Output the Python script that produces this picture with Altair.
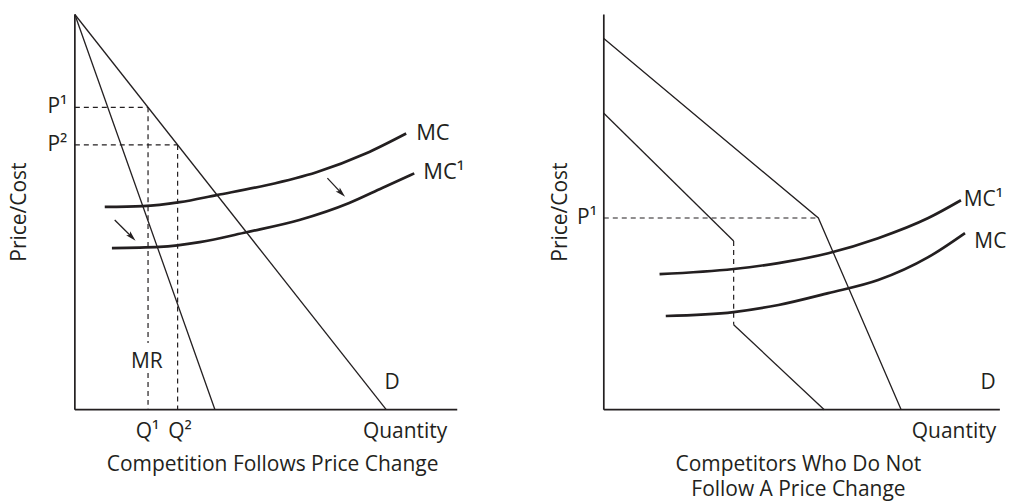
import altair as alt
import pandas as pd

FONT = "Open Sans"
INK = "#231f20"
FS = 21
FS_MC_LEFT = 22
FS_MC_RIGHT = 21

# ---------------- left panel: Competition Follows Price Change ----------------
L_D_Q = [0, 100]
L_D_P = [100, 0]
L_MR_Q = [0, 45]
L_MR_P = [100, 0]
L_MC_Q = [9.6, 21.8, 33.7, 45.5, 61.5, 77.6, 93.6, 106.4]
L_MC_P = [51.3, 51.5, 52.5, 54.3, 56.8, 60.1, 64.9, 69.9]
L_MC1_Q = [11.9, 27.2, 40.1, 55.1, 72.1, 88.1, 98.7, 109.0]
L_MC1_P = [40.9, 41.2, 42.4, 44.9, 48.0, 52.3, 56.1, 59.8]
L_PRICES = [76.5, 67.0]      # P1, P2
L_QUANTS = [23.5, 33.0]      # Q1, Q2
L_MR_GAP = [16.9, 9.3]       # gap in the Q1 guide behind the "MR" label
L_ARROW_Q0 = [81.1, 12.8]
L_ARROW_P0 = [58.6, 48.0]
L_ARROW_Q1 = [85.6, 18.3]
L_ARROW_P1 = [54.8, 43.7]
L_AXIS_QMAX = 122.8
AXIS_PMAX = 100

L_TEXT = ["MC", "MC¹", "MR", "D", "Q¹", "Q²", "P¹", "P²", "Quantity",
          "Competition Follows Price Change"]
L_TEXT_Q = [109.6, 111.9, 23.1, 101.9, 23.3, 33.8, -2.4, -2.4, 119.6, 63.5]
L_TEXT_P = [69.9, 60.1, 12.1, 6.8, -5.6, -5.6, 76.5, 67.0, -5.6, -13.9]
L_TEXT_ALIGN = ["left", "left", "center", "center", "center", "center",
                "right", "right", "right", "center"]
L_YTITLE = ("Price/Cost", -17.6, 50)

# ---------------- right panel: Competitors Who Do Not Follow ----------------
R_D_Q = [0, 68.9, 95.5]
R_D_P = [93.9, 48.5, 0]
R_MR_UP_Q = [0, 41.7]
R_MR_UP_P = [75.0, 42.7]
R_MR_LO_Q = [41.7, 70.8]
R_MR_LO_P = [21.5, 0]
R_P1 = 48.5
R_KINK_Q = 68.9
R_MC1_Q = [17.9, 41.7, 56.1, 72.1, 88.1, 104.2, 114.7]
R_MC1_P = [34.3, 35.6, 37.1, 39.6, 43.4, 48.5, 53.0]
R_MC_Q = [19.9, 41.7, 56.1, 72.1, 88.1, 104.2, 116.0]
R_MC_P = [23.7, 24.7, 26.5, 29.5, 32.8, 38.6, 44.7]
R_AXIS_QMAX = 127.2

R_TEXT = ["MC¹", "MC", "D", "P¹", "Quantity",
          "Competitors Who Do Not", "Follow A Price Change"]
R_TEXT_Q = [115.6, 119.0, 123.4, -2.2, 126.0, 62.5, 62.5]
R_TEXT_P = [53.0, 42.4, 6.8, 48.5, -5.6, -13.9, -20.4]
R_TEXT_ALIGN = ["left", "left", "center", "right", "right", "center", "center"]
R_YTITLE = ("Price/Cost", -13.8, 50)

# scale set-up (data units -> pixels)
P_DOMAIN = [-21.212, 101.515]
L_Q_DOMAIN = [-21.474, 125.962]
R_Q_DOMAIN = [-43.910, 128.846]
HEIGHT = 486
L_WIDTH = 460
R_WIDTH = 539


def seg_df(pairs):
    rows = []
    for sid, (qs, ps) in enumerate(pairs):
        for i, (q, p) in enumerate(zip(qs, ps)):
            rows.append({"sid": sid, "o": i, "q": q, "p": p})
    return pd.DataFrame(rows)


def panel(qdom, width, axes, thin, thick, dashed, arrows, texts, ytitle, fs_mc):
    X = alt.X("q:Q", scale=alt.Scale(domain=qdom, nice=False, zero=False), axis=None)
    Y = alt.Y("p:Q", scale=alt.Scale(domain=P_DOMAIN, nice=False, zero=False), axis=None)
    layers = []
    layers.append(alt.Chart(seg_df(axes)).mark_line(color=INK, strokeWidth=1.7).encode(
        x=X, y=Y, detail="sid:N", order="o:Q"))
    layers.append(alt.Chart(seg_df(thin)).mark_line(color=INK, strokeWidth=1.3).encode(
        x=X, y=Y, detail="sid:N", order="o:Q"))
    layers.append(alt.Chart(seg_df(dashed)).mark_line(
        color=INK, strokeWidth=1.2, strokeDash=[5, 4]).encode(
        x=X, y=Y, detail="sid:N", order="o:Q"))
    layers.append(alt.Chart(seg_df(thick)).mark_line(
        color=INK, strokeWidth=2.7, interpolate="monotone").encode(
        x=X, y=Y, detail="sid:N", order="o:Q"))
    if arrows is not None:
        q0, p0, q1, p1 = arrows
        layers.append(alt.Chart(seg_df([([a, b], [c, d]) for a, c, b, d in zip(q0, p0, q1, p1)]))
                      .mark_line(color=INK, strokeWidth=1.3).encode(
            x=X, y=Y, detail="sid:N", order="o:Q"))
        heads = pd.DataFrame({"q": q1, "p": p1})
        layers.append(alt.Chart(heads).mark_point(
            shape="M0,-1L0.55,1L0,0.55L-0.55,1Z", filled=True, color=INK,
            opacity=1, size=110, angle=135).encode(x=X, y=Y))
    for align in ["left", "center", "right"]:
        df = pd.DataFrame([{"t": t, "q": q, "p": p} for t, q, p, a in texts if a == align])
        if len(df):
            size = fs_mc if align == "left" else FS
            layers.append(alt.Chart(df).mark_text(
                align=align, baseline="middle", font=FONT, fontSize=size, color=INK).encode(
                x=X, y=Y, text="t:N"))
    ydf = pd.DataFrame([{"t": ytitle[0], "q": ytitle[1], "p": ytitle[2]}])
    layers.append(alt.Chart(ydf).mark_text(
        align="center", baseline="middle", angle=270, font=FONT, fontSize=FS,
        color=INK).encode(x=X, y=Y, text="t:N"))
    return alt.layer(*layers).properties(width=width, height=HEIGHT)


left = panel(
    L_Q_DOMAIN, L_WIDTH,
    axes=[([0, 0], [0, AXIS_PMAX]), ([0, L_AXIS_QMAX], [0, 0])],
    thin=[(L_D_Q, L_D_P), (L_MR_Q, L_MR_P)],
    thick=[(L_MC_Q, L_MC_P), (L_MC1_Q, L_MC1_P)],
    dashed=[([0, L_QUANTS[0]], [L_PRICES[0], L_PRICES[0]]),
            ([L_QUANTS[0], L_QUANTS[0]], [L_PRICES[0], L_MR_GAP[0]]),
            ([L_QUANTS[0], L_QUANTS[0]], [L_MR_GAP[1], 0]),
            ([0, L_QUANTS[1]], [L_PRICES[1], L_PRICES[1]]),
            ([L_QUANTS[1], L_QUANTS[1]], [L_PRICES[1], 0])],
    arrows=(L_ARROW_Q0, L_ARROW_P0, L_ARROW_Q1, L_ARROW_P1),
    texts=list(zip(L_TEXT, L_TEXT_Q, L_TEXT_P, L_TEXT_ALIGN)),
    ytitle=L_YTITLE, fs_mc=FS_MC_LEFT,
)

right = panel(
    R_Q_DOMAIN, R_WIDTH,
    axes=[([0, 0], [0, AXIS_PMAX]), ([0, R_AXIS_QMAX], [0, 0])],
    thin=[(R_D_Q, R_D_P), (R_MR_UP_Q, R_MR_UP_P), (R_MR_LO_Q, R_MR_LO_P)],
    thick=[(R_MC1_Q, R_MC1_P), (R_MC_Q, R_MC_P)],
    dashed=[([0, R_KINK_Q], [R_P1, R_P1]),
            ([R_MR_UP_Q[1], R_MR_LO_Q[0]], [R_MR_UP_P[1], R_MR_LO_P[0]])],
    arrows=None,
    texts=list(zip(R_TEXT, R_TEXT_Q, R_TEXT_P, R_TEXT_ALIGN)),
    ytitle=R_YTITLE, fs_mc=FS_MC_RIGHT,
)

chart = alt.hconcat(left, right, spacing=0).properties(
    padding=0, background="white").configure_view(strokeWidth=0, stroke="transparent")

chart.save("out.html", embed_options={"renderer": "svg", "actions": False})
